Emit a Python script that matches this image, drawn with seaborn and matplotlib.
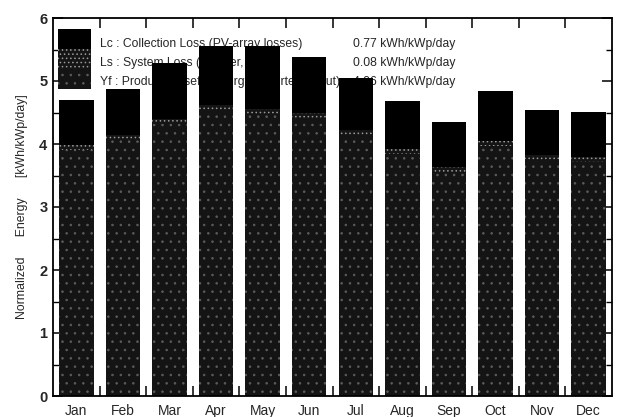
import numpy as np
import matplotlib
matplotlib.use("Agg")
import matplotlib.pyplot as plt
import seaborn as sns
from matplotlib.patches import Rectangle
from matplotlib.ticker import MultipleLocator, FixedLocator

# monthly normalized energies [kWh/kWp/day]
months = ["Jan", "Feb", "Mar", "Apr", "May", "Jun",
          "Jul", "Aug", "Sep", "Oct", "Nov", "Dec"]
yf = [3.90, 4.06, 4.32, 4.54, 4.48, 4.41, 4.14, 3.84, 3.55, 3.97, 3.75, 3.71]
ls = [0.08, 0.08, 0.08, 0.08, 0.08, 0.08, 0.08, 0.08, 0.08, 0.08, 0.08, 0.08]
lc = [0.72, 0.73, 0.89, 0.94, 0.99, 0.89, 0.83, 0.76, 0.72, 0.79, 0.71, 0.72]

legend_labels = ["Lc : Collection Loss (PV-array losses)",
                 "Ls : System Loss (inverter, ...)",
                 "Yf : Produced useful energy (inverter output)"]
legend_values = ["0.77 kWh/kWp/day", "0.08 kWh/kWp/day", "4.06 kWh/kWp/day"]

sns.set_theme(style="ticks")
plt.rcParams['font.family'] = ['Liberation Sans', 'DejaVu Sans']
plt.rcParams['hatch.linewidth'] = 0.6

fig = plt.figure(figsize=(6.21, 4.17), dpi=100)
ax = fig.add_axes([53 / 621, 21 / 417, 559 / 621, 378 / 417])

yf_arr = np.array(yf)
ls_top = yf_arr + np.array(ls)
total = ls_top + np.array(lc)

# stacked bars drawn as overlapping cumulative heights
bar_kw = dict(width=0.74, saturation=1, linewidth=0, zorder=2, ax=ax)
sns.barplot(x=months, y=total, color="#000000", **bar_kw)
sns.barplot(x=months, y=ls_top, color="#151515", hatch="....",
            edgecolor="#9a9a9a", **bar_kw)
sns.barplot(x=months, y=yf_arr, color="#141414", hatch="..",
            edgecolor="#5c5c5c", **bar_kw)

ax.set_xlim(-0.5, 11.5)
ax.set_ylim(0, 6)
ax.set_xlabel("")
ax.set_ylabel("Normalized      Energy      [kWh/kWp/day]", fontsize=8.8, labelpad=8)

ax.yaxis.set_major_locator(MultipleLocator(1))
ax.yaxis.set_minor_locator(MultipleLocator(0.5))
ax.xaxis.set_minor_locator(FixedLocator(np.arange(0.5, 11, 1)))
ax.tick_params(axis="x", which="major", length=0, labelsize=10, pad=6)
ax.tick_params(axis="x", which="minor", direction="in", length=7,
               width=1.1, top=True, bottom=True, color="black")
ax.tick_params(axis="y", which="major", direction="in", length=7, width=1.1,
               left=True, right=True, labelsize=10.5, pad=4, color="black")
ax.tick_params(axis="y", which="minor", direction="in", length=4, width=1.0,
               left=True, right=True, color="black")
for lab in ax.get_yticklabels():
    lab.set_fontweight("bold")

for s in ax.spines.values():
    s.set_visible(True)
    s.set_color("black")
    s.set_linewidth(1.3)

# legend block: stacked swatch + texts (behind the bars)
sw_x, sw_w, sw_h = 0.009, 0.059, 0.053
sw_styles = [dict(facecolor="#000000"),
             dict(facecolor="#151515", hatch="....", edgecolor="#9a9a9a"),
             dict(facecolor="#141414", hatch="..", edgecolor="#5c5c5c")]
for i, st in enumerate(sw_styles):
    ax.add_patch(Rectangle((sw_x, 0.971 - (i + 1) * sw_h), sw_w, sw_h,
                           transform=ax.transAxes, linewidth=0, zorder=1, **st))
for i, (lab, val) in enumerate(zip(legend_labels, legend_values)):
    y = 0.931 - i * 0.05
    ax.text(0.084, y, lab, transform=ax.transAxes, fontsize=8.7,
            va="center", ha="left", zorder=0.5)
    ax.text(0.537, y, val, transform=ax.transAxes, fontsize=8.7,
            va="center", ha="left", zorder=0.5)

fig.savefig("out.png", dpi=100)
